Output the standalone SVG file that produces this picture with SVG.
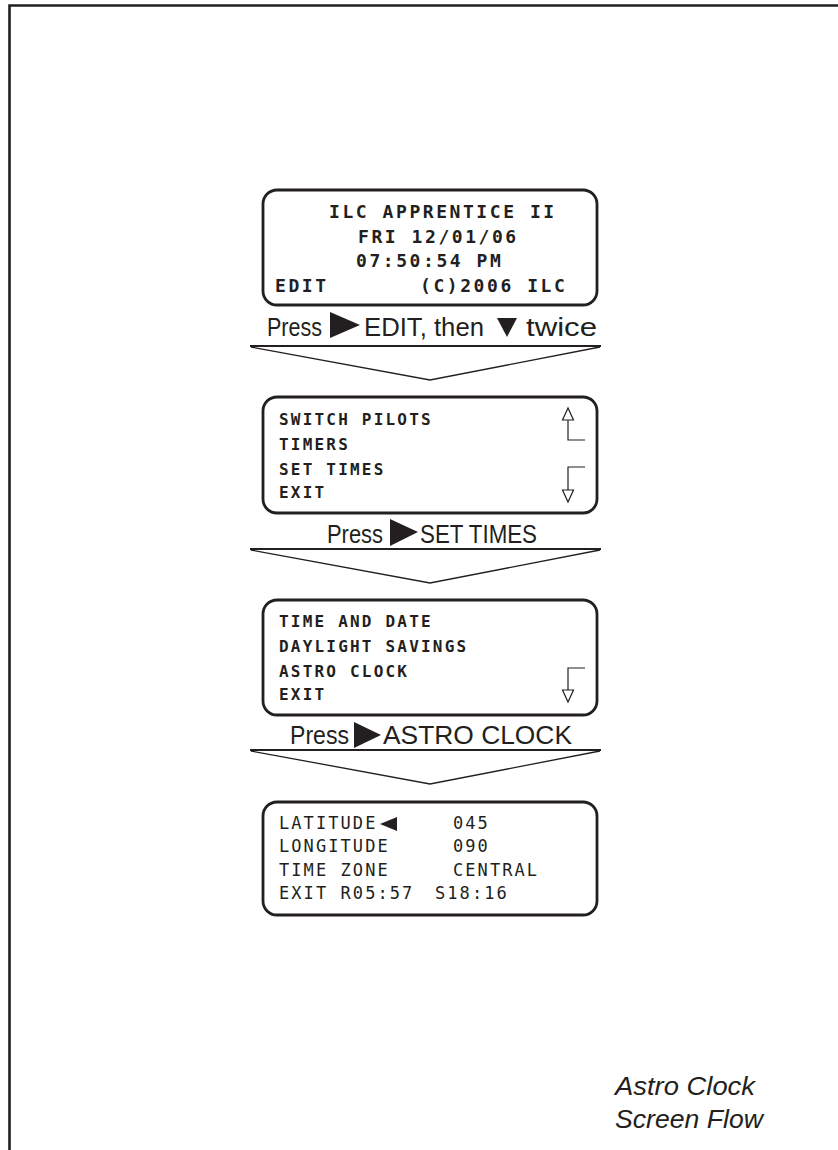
<svg xmlns="http://www.w3.org/2000/svg" width="838" height="1150" viewBox="0 0 838 1150">
<style>
.box{fill:#fff;stroke:#231f20;stroke-width:2.8}
.lcd{font-family:"DejaVu Sans Mono","Liberation Mono",monospace;fill:#231f20}
.l1{font-size:18px;letter-spacing:2.56px;font-weight:bold}
.l2{font-size:16px;letter-spacing:2.2px;font-weight:bold}
.l4{font-size:17px;letter-spacing:2.07px}
.press{font-family:"Liberation Sans",Arial,sans-serif;font-size:26px;fill:#231f20}
.tri{fill:#231f20}
.chtop{stroke:#231f20;stroke-width:2;fill:none}
.chdiag{stroke:#231f20;stroke-width:1.3;fill:none}
.scroll{stroke:#231f20;stroke-width:1.2;fill:#fff}
.title{font-family:"Liberation Sans",Arial,sans-serif;font-size:25px;font-style:italic;fill:#231f20}
</style>
<rect width="838" height="1150" fill="#fff"/>
<path d="M9.5,1150 V5.5 H838" fill="none" stroke="#231f20" stroke-width="2.6"/>

<g id="screen-main">
<rect class="box" x="263" y="190" width="334" height="115" rx="14"/>
<text class="lcd l1" x="329" y="218">ILC APPRENTICE II</text>
<text class="lcd l1" x="358" y="243">FRI 12/01/06</text>
<text class="lcd l1" x="356" y="267">07:50:54 PM</text>
<text class="lcd l1" x="275" y="292">EDIT</text>
<text class="lcd l1" x="420" y="292">(C)2006 ILC</text>
</g>

<g id="step1-label">
<text class="press" x="267" y="336" textLength="55" lengthAdjust="spacingAndGlyphs">Press</text>
<polygon class="tri" points="330,312 360,325 330,338"/>
<text class="press" x="364" y="336" textLength="120" lengthAdjust="spacingAndGlyphs">EDIT, then</text>
<polygon class="tri" points="497,318 517,318 507,337"/>
<text class="press" x="526" y="336" textLength="71" lengthAdjust="spacingAndGlyphs">twice</text>
</g>

<g id="screen-edit">
<rect class="box" x="263" y="397" width="334" height="116" rx="14"/>
<text class="lcd l2" x="279" y="425">SWITCH PILOTS</text>
<text class="lcd l2" x="279" y="450">TIMERS</text>
<text class="lcd l2" x="279" y="475">SET TIMES</text>
<text class="lcd l2" x="279" y="498">EXIT</text>
<path class="scroll" d="M568,420 V440 H585" fill="none"/>
<polygon class="scroll" points="568,408 562.5,420 573.5,420"/>
<path class="scroll" d="M585,467 H568 V490" fill="none"/>
<polygon class="scroll" points="562.5,490 573.5,490 568,502"/>
</g>

<g id="step2-label">
<text class="press" x="327" y="543" textLength="56" lengthAdjust="spacingAndGlyphs">Press</text>
<polygon class="tri" points="390,519 418,532 390,546"/>
<text class="press" x="420" y="543" textLength="117" lengthAdjust="spacingAndGlyphs">SET TIMES</text>
</g>

<g id="screen-settimes">
<rect class="box" x="263" y="600" width="334" height="115" rx="14"/>
<text class="lcd l2" x="279" y="627">TIME AND DATE</text>
<text class="lcd l2" x="279" y="652">DAYLIGHT SAVINGS</text>
<text class="lcd l2" x="279" y="677">ASTRO CLOCK</text>
<text class="lcd l2" x="279" y="700">EXIT</text>
<path class="scroll" d="M585,668 H568 V690" fill="none"/>
<polygon class="scroll" points="562.5,690 573.5,690 568,702"/>
</g>

<g id="step3-label">
<text class="press" x="290" y="744" textLength="59" lengthAdjust="spacingAndGlyphs">Press</text>
<polygon class="tri" points="354,722 381,735 354,748"/>
<text class="press" x="383" y="744" textLength="189" lengthAdjust="spacingAndGlyphs">ASTRO CLOCK</text>
</g>

<g id="screen-astro">
<rect class="box" x="263" y="802" width="334" height="113" rx="14"/>
<text class="lcd l4" x="279" y="829">LATITUDE</text>
<polygon class="tri" points="397,817 397,831 380,824"/>
<text class="lcd l4" x="453" y="829">045</text>
<text class="lcd l4" x="279" y="852">LONGITUDE</text>
<text class="lcd l4" x="453" y="852">090</text>
<text class="lcd l4" x="279" y="876">TIME ZONE</text>
<text class="lcd l4" x="453" y="876">CENTRAL</text>
<text class="lcd l4" x="279" y="899">EXIT R05:57</text>
<text class="lcd l4" x="435" y="899">S18:16</text>
</g>

<g id="connectors">
<line class="chtop" x1="250" y1="346" x2="601" y2="346"/>
<path class="chdiag" d="M251,347 L430,380 L600,347"/>
<line class="chtop" x1="250" y1="549" x2="601" y2="549"/>
<path class="chdiag" d="M251,550 L430,583 L600,550"/>
<line class="chtop" x1="250" y1="750" x2="601" y2="750"/>
<path class="chdiag" d="M251,751 L430,784 L600,751"/>
</g>

<g id="caption">
<text class="title" x="615" y="1095" textLength="140" lengthAdjust="spacingAndGlyphs">Astro Clock</text>
<text class="title" x="615" y="1128" textLength="148" lengthAdjust="spacingAndGlyphs">Screen Flow</text>
</g>
</svg>
